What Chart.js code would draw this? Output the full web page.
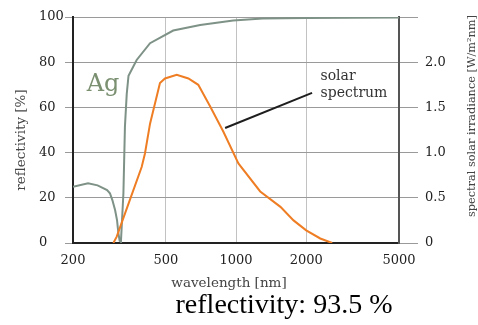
<!DOCTYPE html>
<html><head><meta charset="utf-8">
<script src="https://cdn.jsdelivr.net/npm/chart.js@4"></script>
<style>html,body{margin:0;padding:0;background:#fff}#wrap{width:478px;height:325px;position:relative}</style>
</head><body><div id="wrap"><canvas id="c" width="478" height="325"></canvas></div>
<script>
// ---- data ----
const agWavelength   = [200, 232, 255, 280, 288, 295, 303, 309, 313, 317, 321, 329, 334, 340, 346, 375, 428, 538, 702, 973, 1300, 2000, 5000];
const agReflectivity = [24.9, 26.4, 25.5, 23.4, 22.0, 19.0, 14.6, 10.0, 4.4, 1.0, 0.5, 22.0, 51.5, 66.0, 74.0, 81.0, 88.4, 94.0, 96.5, 98.4, 99.3, 99.6, 99.8];

const solarWavelength  = [298, 308, 351, 394, 407, 428, 472, 496, 557, 625, 689, 775, 883, 1024, 1270, 1551, 1765, 2000, 2298, 2584];
const solarIrradiance  = [0, 0.07, 0.48, 0.84, 0.99, 1.32, 1.77, 1.82, 1.86, 1.82, 1.75, 1.51, 1.23, 0.88, 0.57, 0.40, 0.25, 0.14, 0.05, 0];

const xTicks = [200, 500, 1000, 2000, 5000];
const leftTicks = [0, 20, 40, 60, 80, 100];
const rightTicks = [0, 0.5, 1.0, 1.5, 2.0, 2.5];
const rightTickLabels = ['0', '0.5', '1.0', '1.5', '2.0', ''];

const leftAxisTitle = 'reflectivity [%]';
const rightAxisTitle = 'spectral solar irradiance [W/m²nm]';
const xAxisTitle = 'wavelength [nm]';
const seriesLabelAg = 'Ag';
const seriesLabelSolar = ['solar', 'spectrum'];
const bottomTitle = 'reflectivity: 93.5 %';

const agPoints = agWavelength.map((w, i) => ({x: w, y: agReflectivity[i]}));
const solarPoints = solarWavelength.map((w, i) => ({x: w, y: solarIrradiance[i]}));

const SERIF = '"DejaVu Serif", serif';
const tickFont = {family: SERIF, size: 13};

const extras = {
  id: 'extras',
  afterDatasetsDraw(chart) {
    const {ctx, scales: {x, y}} = chart;
    ctx.save();
    // pointer line for solar spectrum
    ctx.strokeStyle = '#1e1e1e';
    ctx.lineWidth = 2;
    ctx.beginPath();
    ctx.moveTo(x.getPixelForValue(898), y.getPixelForValue(50.9));
    ctx.lineTo(x.getPixelForValue(2119), y.getPixelForValue(66.4));
    ctx.stroke();
    // solar spectrum text
    ctx.fillStyle = '#333';
    ctx.font = '14px ' + SERIF;
    ctx.textAlign = 'left';
    ctx.textBaseline = 'middle';
    const tx = x.getPixelForValue(2303);
    ctx.fillText(seriesLabelSolar[0], tx, y.getPixelForValue(73.6));
    ctx.fillText(seriesLabelSolar[1], tx, y.getPixelForValue(66.4));
    // Ag label
    ctx.fillStyle = '#7b9071';
    ctx.font = '24px ' + SERIF;
    ctx.fillText(seriesLabelAg, x.getPixelForValue(229), y.getPixelForValue(70));
    ctx.restore();
  },
  afterDraw(chart) {
    const ctx = chart.ctx;
    ctx.save();
    ctx.fillStyle = '#444';
    ctx.textAlign = 'center';
    ctx.textBaseline = 'middle';
    // left axis title
    ctx.font = '13.5px ' + SERIF;
    ctx.translate(21, 140);
    ctx.rotate(-Math.PI / 2);
    ctx.fillText(leftAxisTitle, 0, 0);
    ctx.setTransform(1, 0, 0, 1, 0, 0);
    // right axis title
    ctx.font = '11.3px ' + SERIF;
    ctx.translate(472, 116);
    ctx.rotate(-Math.PI / 2);
    ctx.fillText(rightAxisTitle, 0, 0);
    ctx.setTransform(1, 0, 0, 1, 0, 0);
    // x axis title
    ctx.fillStyle = '#444';
    ctx.font = '13.5px ' + SERIF;
    ctx.fillText(xAxisTitle, 229, 283);
    // bottom title
    ctx.fillStyle = '#000';
    ctx.font = '28px "Liberation Serif", "Times New Roman", serif';
    ctx.textBaseline = 'alphabetic';
    ctx.fillText(bottomTitle, 284, 313);
    ctx.restore();
  }
};

new Chart(document.getElementById('c'), {
  type: 'line',
  data: {
    datasets: [
      {label: 'solar spectrum', data: solarPoints, yAxisID: 'y1', borderColor: '#ef7d23', borderWidth: 2, pointRadius: 0, tension: 0, order: 0},
      {label: 'Ag', data: agPoints, yAxisID: 'y', borderColor: '#7e9287', borderWidth: 2, pointRadius: 0, tension: 0, order: 1}
    ]
  },
  options: {
    responsive: false,
    animation: false,
    events: [],
    layout: {padding: {left: 39, top: 17, right: 0, bottom: 0}},
    plugins: {legend: {display: false}, title: {display: false}, tooltip: {enabled: false}},
    scales: {
      x: {
        type: 'logarithmic', min: 200, max: 5000,
        afterBuildTicks: s => { s.ticks = xTicks.map(v => ({value: v})); },
        afterFit: s => { s.height = 82; },
        ticks: {autoSkip: false, maxRotation: 0, padding: 10, color: '#222', font: tickFont, callback: v => String(v)},
        grid: {color: '#c2c2c2', lineWidth: 1, drawTicks: false},
        border: {color: '#222', width: 2}
      },
      y: {
        position: 'left', min: 0, max: 100,
        afterBuildTicks: s => { s.ticks = leftTicks.map(v => ({value: v})); },
        afterFit: s => { s.width = 34; },
        ticks: {crossAlign: 'far', color: '#222', font: tickFont, callback: v => String(v)},
        grid: {color: '#9a9a9a', lineWidth: 1, tickLength: 8},
        border: {color: '#222', width: 2}
      },
      y1: {
        position: 'right', min: 0, max: 2.5,
        afterBuildTicks: s => { s.ticks = rightTicks.map(v => ({value: v})); },
        afterFit: s => { s.width = 79; },
        ticks: {crossAlign: 'near', padding: 7, color: '#222', font: tickFont, callback: (v, i) => rightTickLabels[i]},
        grid: {color: '#9a9a9a', lineWidth: 1, tickLength: 19, drawOnChartArea: false},
        border: {color: '#555', width: 2}
      }
    }
  },
  plugins: [extras]
});
</script>
</body></html>
